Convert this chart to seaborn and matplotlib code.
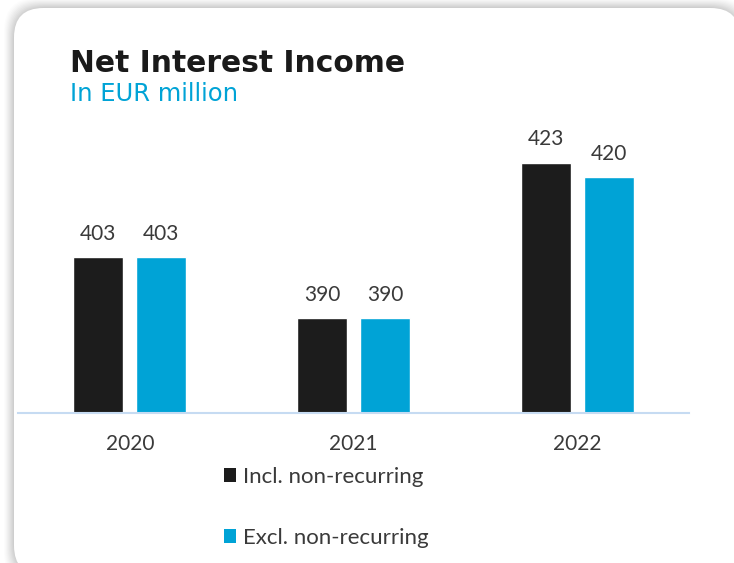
import matplotlib
matplotlib.use("Agg")
import matplotlib.pyplot as plt
from matplotlib.patches import FancyBboxPatch, Patch
import pandas as pd
import seaborn as sns

# Net interest income, EUR million
years = ["2020", "2021", "2022"]
series_names = ["Incl. non-recurring", "Excl. non-recurring"]
incl_values = [403, 390, 423]
excl_values = [403, 390, 420]

colors = ["#1c1c1c", "#00a3d6"]
text_color = "#3a3a3a"

df = pd.DataFrame({
    "year": years * 2,
    "series": [series_names[0]] * 3 + [series_names[1]] * 3,
    "value": incl_values + excl_values,
})

sns.set_theme(style="white")
plt.rcParams["font.family"] = ["Lato", "DejaVu Sans"]

W, H = 734, 563
fig = plt.figure(figsize=(W / 100, H / 100), dpi=100)
fig.patch.set_facecolor("white")


def fx(px):
    return px / W


def fy(py):
    return 1 - py / H


# soft shadow and white card
for i, a in enumerate([0.02, 0.025, 0.03, 0.035, 0.04, 0.045, 0.05, 0.055, 0.06, 0.07]):
    off = 10 - i
    card_shadow = FancyBboxPatch(
        (fx(14 - off), fy(575 + off)), fx(740 - 14 + 2 * off), (575 - 8 + 2 * off) / H,
        boxstyle="round,pad=0,rounding_size=0.045", transform=fig.transFigure,
        facecolor="#808080", edgecolor="none", alpha=a, zorder=0,
        mutation_aspect=W / H)
    fig.patches.append(card_shadow)
card = FancyBboxPatch(
    (fx(14), fy(575)), fx(740 - 14), (575 - 8) / H,
    boxstyle="round,pad=0,rounding_size=0.04", transform=fig.transFigure,
    facecolor="white", edgecolor="none", zorder=1, mutation_aspect=W / H)
fig.patches.append(card)

ax = fig.add_axes([fx(18), fy(413), fx(689 - 18), (413 - 120) / H])
ax.set_facecolor("none")
ax.set_zorder(2)

sns.barplot(data=df, x="year", y="value", hue="series", hue_order=series_names,
            palette=colors, width=0.5625, gap=0.207, ax=ax, legend=False,
            saturation=1, errorbar=None)

ax.set_ylim(370, 432)
ax.set_xlim(-0.5, 2.5)
for c in ax.containers:
    ax.bar_label(c, fmt="%d", padding=9.5, fontsize=15, color=text_color)

ax.set_xlabel("")
ax.set_ylabel("")
ax.set_yticks([])
for s in ["top", "left", "right"]:
    ax.spines[s].set_visible(False)
ax.spines["bottom"].set_color("#c6dbf2")
ax.spines["bottom"].set_linewidth(1.5)
ax.tick_params(axis="x", length=0, pad=15, labelsize=15, labelcolor=text_color)

fig.text(fx(70), fy(72), "Net Interest Income", fontsize=21.4, fontweight="bold",
         color="#1a1a1a", family="DejaVu Sans", va="baseline", ha="left")
fig.text(fx(70), fy(101), "In EUR million", fontsize=17.5, color="#00a3d6",
         family="DejaVu Sans", va="baseline", ha="left")

handles = [Patch(facecolor=c, edgecolor="none") for c in colors]
fig.legend(handles, series_names, loc="upper left",
           bbox_to_anchor=(fx(224), fy(467)), frameon=False, fontsize=16,
           handlelength=0.56, handleheight=0.56, handletextpad=0.3,
           labelspacing=1.85, borderpad=0, borderaxespad=0, labelcolor=text_color)

fig.savefig("out.png", dpi=100, facecolor="white")
